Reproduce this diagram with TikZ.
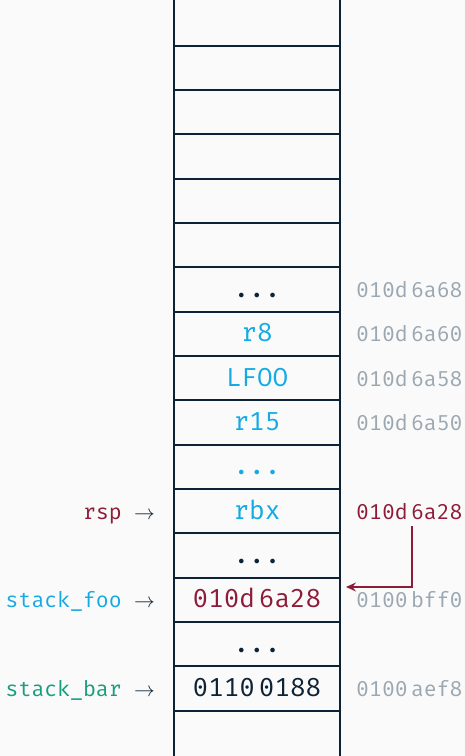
\documentclass[tikz,border=0pt]{standalone}
\usepackage{fontspec}
\setmonofont{Fira Mono}
\usetikzlibrary{arrows.meta}
\definecolor{bg}{HTML}{FAFAFA}
\definecolor{navy}{HTML}{0D2335}
\definecolor{regcyan}{HTML}{14ABE4}
\definecolor{regred}{HTML}{8E1B38}
\definecolor{reggreen}{HTML}{179E7E}
\definecolor{addrgray}{HTML}{9BA7B1}
\tikzset{
  gridline/.style={draw=navy, line width=2pt},
  cell/.style={anchor=base, inner sep=0pt, text=navy, font=\fontsize{26}{30}\selectfont\ttfamily},
  addr/.style={anchor=base west, inner sep=0pt, text=addrgray, font=\fontsize{21.5}{25}\selectfont\ttfamily},
  lbl/.style={anchor=base east, inner sep=0pt, font=\fontsize{21.5}{25}\selectfont\ttfamily},
  larrow/.style={anchor=base west, inner sep=0pt, text=navy, font=\fontsize{21}{25}\selectfont},
  ptr/.style={draw=regred, line width=1.5pt, -{Stealth[length=10pt,width=9pt,inset=3.5pt]}}
}
\newcommand{\gp}{\hspace{0.15em}}
\begin{document}
\begin{tikzpicture}[x=1pt,y=-1pt]
\fill[bg] (0,0) rectangle (465,756);
\useasboundingbox (0,0) rectangle (465,756);
% column
\draw[gridline] (174,0) -- (174,756);
\draw[gridline] (340,0) -- (340,756);
\foreach \k in {0,...,15}
  \draw[gridline] (174,{45.7+44.33*\k}) -- (340,{45.7+44.33*\k});
% row baselines: 45.7 + 44.33*(k+0.5) + 8
\def\bl#1{{45.7+44.33*(#1+0.5)+8}}
% cells
\node[cell] (c5) at (257,\bl{5}) {...};
\node[cell, text=regcyan] (c6) at (257,\bl{6}) {r8};
\node[cell, text=regcyan] (c7) at (257,\bl{7}) {LFOO};
\node[cell, text=regcyan] (c8) at (257,\bl{8}) {r15};
\node[cell, text=regcyan] (c9) at (257,\bl{9}) {...};
\node[cell, text=regcyan] (c10) at (257,\bl{10}) {rbx};
\node[cell] (c11) at (257,\bl{11}) {...};
\node[cell, text=regred] (c12) at (257,\bl{12}) {010d\gp 6a28};
\node[cell] (c13) at (257,\bl{13}) {...};
\node[cell] (c14) at (257,\bl{14}) {0110\gp 0188};
% addresses
\node[addr] (a5) at (356,\bl{5}) {010d\gp 6a68};
\node[addr] (a6) at (356,\bl{6}) {010d\gp 6a60};
\node[addr] (a7) at (356,\bl{7}) {010d\gp 6a58};
\node[addr] (a8) at (356,\bl{8}) {010d\gp 6a50};
\node[addr, text=regred] (a10) at (356,\bl{10}) {010d\gp 6a28};
\node[addr] (a12) at (356,\bl{12}) {0100\gp bff0};
\node[addr] (a14) at (356,\bl{14}) {0100\gp aef8};
% left labels
\node[lbl, text=regred] (l10) at (122,\bl{10}) {rsp};
\node[larrow] (r10) at (134,\bl{10}) {$\rightarrow$};
\node[lbl, text=regcyan] (l12) at (122,\bl{12}) {stack\_foo};
\node[larrow] (r12) at (134,\bl{12}) {$\rightarrow$};
\node[lbl, text=reggreen] (l14) at (122,\bl{14}) {stack\_bar};
\node[larrow] (r14) at (134,\bl{14}) {$\rightarrow$};
% pointer
\coordinate (pS) at (412,526);
\coordinate (pE) at (346,587);
\draw[ptr] (pS) |- (pE);
\end{tikzpicture}
\end{document}
